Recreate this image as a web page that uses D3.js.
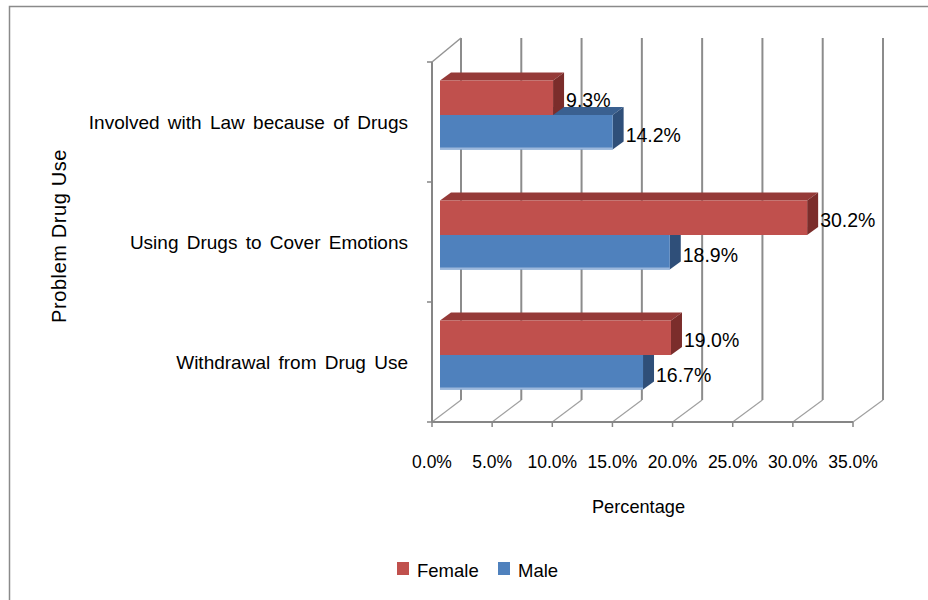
<!DOCTYPE html>
<html>
<head>
<meta charset="utf-8">
<script src="https://cdn.jsdelivr.net/npm/d3@7"></script>
<style>
  body { margin: 0; background: #fff; }
  svg { display: block; font-family: "Liberation Sans", Arial, sans-serif; }
</style>
</head>
<body>
<svg width="928" height="600"></svg>
<script>
// data
const categories = ['Involved with Law because of Drugs', 'Using Drugs to Cover Emotions', 'Withdrawal from Drug Use'];
const femaleValues = [9.3, 30.2, 19.0];
const maleValues = [14.2, 18.9, 16.7];
const seriesNames = ['Female', 'Male'];
const tickValues = [0, 5, 10, 15, 20, 25, 30, 35];

const colors = {
    Female: {front: '#c0504d', top: '#953a38', side: '#7b2d2b'},
    Male: {front: '#4f81bd', top: '#3a6090', side: '#2f4f79'}
};

const svg = d3.select('svg');

// chart border (only top and left fall inside the picture)
svg.append('rect')
    .attr('x', 9.5).attr('y', 6.5)
    .attr('width', 1000).attr('height', 1000)
    .attr('fill', 'none')
    .attr('stroke', '#8a8a8a')
    .attr('stroke-width', 1.5);

// 3d frame: front plane, back wall, bar plane
const xFront = d3.scaleLinear().domain([0, 35]).range([432, 853]);
const xBack = d3.scaleLinear().domain([0, 35]).range([461, 883]);
const xBar = d3.scaleLinear().domain([0, 35]).range([440, 865.5]);
const yFront = d3.scaleBand().domain(categories).range([62, 422]);
const yBar = d3.scaleBand().domain(categories).range([55, 415]);

const backTop = 38, backBottom = 400, floorFront = 422;
const depthX = 11, depthY = -8; // bar depth
const barH = 34.5;

const grid = svg.append('g');

// back wall gridlines
grid.selectAll('.grid')
    .data(tickValues)
    .enter()
    .append('line')
    .classed('grid', true)
    .attr('x1', d => xBack(d)).attr('x2', d => xBack(d))
    .attr('y1', backTop).attr('y2', backBottom)
    .attr('stroke', '#8c8c8c')
    .attr('stroke-width', 2);

// floor diagonals
grid.selectAll('.floor')
    .data(tickValues)
    .enter()
    .append('line')
    .classed('floor', true)
    .attr('x1', d => xBack(d)).attr('y1', backBottom)
    .attr('x2', d => xFront(d)).attr('y2', floorFront)
    .attr('stroke', '#a0a0a0')
    .attr('stroke-width', 1.2);

// floor front edge + ticks
grid.append('line')
    .attr('x1', xFront(0)).attr('x2', xFront(35))
    .attr('y1', floorFront).attr('y2', floorFront)
    .attr('stroke', '#868686').attr('stroke-width', 2);

grid.selectAll('.xtick')
    .data(tickValues)
    .enter()
    .append('line')
    .classed('xtick', true)
    .attr('x1', d => xFront(d)).attr('x2', d => xFront(d))
    .attr('y1', floorFront).attr('y2', floorFront + 5)
    .attr('stroke', '#868686').attr('stroke-width', 1.5);

// left wall
const catEdges = categories.map(c => yFront(c)).concat([yFront.range()[1]]);
grid.append('line')
    .attr('x1', xFront(0)).attr('x2', xFront(0))
    .attr('y1', catEdges[0]).attr('y2', floorFront)
    .attr('stroke', '#868686').attr('stroke-width', 2);
grid.append('line')
    .attr('x1', xFront(0)).attr('y1', catEdges[0])
    .attr('x2', xBack(0)).attr('y2', backTop)
    .attr('stroke', '#949494').attr('stroke-width', 1.5);
grid.selectAll('.ytick')
    .data(catEdges)
    .enter()
    .append('line')
    .classed('ytick', true)
    .attr('x1', xFront(0) - 5).attr('x2', xFront(0))
    .attr('y1', d => d).attr('y2', d => d)
    .attr('stroke', '#868686').attr('stroke-width', 1.5);

// x tick labels
svg.selectAll('.xlabel')
    .data(tickValues)
    .enter()
    .append('text')
    .classed('xlabel', true)
    .attr('x', d => xFront(d))
    .attr('y', 468)
    .attr('text-anchor', 'middle')
    .attr('font-size', 17.5)
    .text(d => d.toFixed(1) + '%');

// category labels
svg.selectAll('.catlabel')
    .data(categories)
    .enter()
    .append('text')
    .classed('catlabel', true)
    .attr('x', 408)
    .attr('y', d => yFront(d) + yFront.bandwidth() / 2 + 7)
    .attr('text-anchor', 'end')
    .attr('font-size', 19)
    .attr('word-spacing', 3)
    .text(d => d);

// bars: male (lower) drawn first so female front face overlaps its top
const barData = [];
categories.forEach((c, i) => {
    const mid = yBar(c) + yBar.bandwidth() / 2;
    barData.push({cat: c, series: 'Male', value: maleValues[i], y: mid});
    barData.push({cat: c, series: 'Female', value: femaleValues[i], y: mid - barH});
});

const pts = arr => arr.map(p => p.join(',')).join(' ');

const bars = svg.selectAll('.bar')
    .data(barData)
    .enter()
    .append('g')
    .classed('bar', true);

bars.append('polygon') // top face
    .attr('points', d => {
        const x0 = xBar(0), x1 = xBar(d.value);
        return pts([[x0, d.y], [x0 + depthX, d.y + depthY], [x1 + depthX, d.y + depthY], [x1, d.y]]);
    })
    .attr('fill', d => colors[d.series].top);

bars.append('polygon') // side face
    .attr('points', d => {
        const x1 = xBar(d.value);
        return pts([[x1, d.y], [x1 + depthX, d.y + depthY], [x1 + depthX, d.y + barH + depthY], [x1, d.y + barH]]);
    })
    .attr('fill', d => colors[d.series].side);

bars.append('rect') // front face
    .attr('x', xBar(0))
    .attr('y', d => d.y)
    .attr('width', d => xBar(d.value) - xBar(0))
    .attr('height', barH)
    .attr('fill', d => colors[d.series].front);

bars.filter(d => d.series === 'Male')
    .append('rect')
    .attr('x', xBar(0))
    .attr('y', d => d.y + barH - 2)
    .attr('width', d => xBar(d.value) - xBar(0))
    .attr('height', 2)
    .attr('fill', '#9bb7dc');

// data labels
svg.selectAll('.vlabel')
    .data(barData)
    .enter()
    .append('text')
    .classed('vlabel', true)
    .attr('x', d => xBar(d.value) + depthX + 2)
    .attr('y', d => d.y + barH / 2 + 9.5)
    .attr('font-size', 19.5)
    .text(d => d.value.toFixed(1) + '%');

// axis titles
svg.append('text')
    .attr('x', 638.5).attr('y', 513)
    .attr('text-anchor', 'middle')
    .attr('font-size', 18.2)
    .text('Percentage');

svg.append('text')
    .attr('transform', 'translate(66,236) rotate(-90)')
    .attr('text-anchor', 'middle')
    .attr('font-size', 20)
    .attr('letter-spacing', 0.6)
    .text('Problem Drug Use');

// legend
const legendX = [397, 498];
const legend = svg.selectAll('.legend')
    .data(seriesNames)
    .enter()
    .append('g')
    .classed('legend', true)
    .attr('transform', (d, i) => `translate(${legendX[i]},562)`);

legend.append('rect')
    .attr('width', 12).attr('height', 13)
    .attr('fill', d => colors[d].front);

legend.append('text')
    .attr('x', 20).attr('y', 15)
    .attr('font-size', 18.5)
    .text(d => d);
</script>
</body>
</html>
